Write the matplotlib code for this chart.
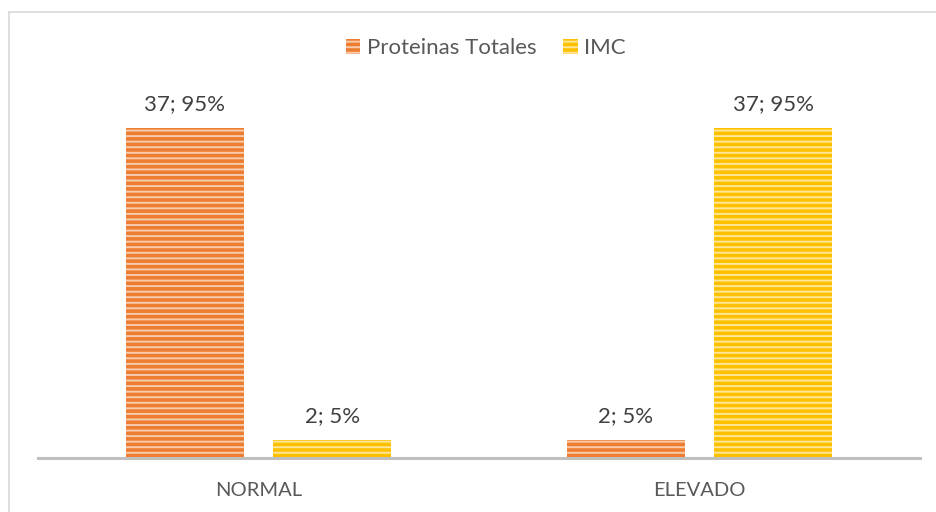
import matplotlib.pyplot as plt
import matplotlib.lines as mlines
import numpy as np

categories = ['NORMAL', 'ELEVADO']
proteinas = [37, 2]
imc = [2, 37]
prot_labels = ['37; 95%', '2; 5%']
imc_labels = ['2; 5%', '37; 95%']

plt.rcParams['font.family'] = ['Lato', 'DejaVu Sans']
plt.rcParams['hatch.linewidth'] = 1.4

W, H = 936, 512
fig = plt.figure(figsize=(W / 100, H / 100), dpi=100)
ax = fig.add_axes([38 / W, 1 - 458 / H, (920 - 38) / W, (458 - 101) / H])

x = np.arange(len(categories))
bw = 0.268
off = 0.167

b1 = ax.bar(x - off, proteinas, bw, color='#ED7D31', edgecolor='#F8CBAD',
            linewidth=0, hatch='---', label='Proteinas Totales')
b2 = ax.bar(x + off, imc, bw, color='#FFC000', edgecolor='#FFE699',
            linewidth=0, hatch='---', label='IMC')

txt = '#404040'
ax.bar_label(b1, prot_labels, padding=10, fontsize=16, color=txt)
ax.bar_label(b2, imc_labels, padding=10, fontsize=16, color=txt)

ax.set_xlim(-0.5, 1.5)
ax.set_ylim(0, 40)
ax.set_xticks(x)
ax.set_xticklabels(categories, fontsize=14.5, color='#595959')
ax.tick_params(axis='x', length=0, pad=17)
ax.set_yticks([])
for s in ['top', 'right', 'left']:
    ax.spines[s].set_visible(False)
ax.spines['bottom'].set_color('#BFBFBF')
ax.spines['bottom'].set_linewidth(2.2)

fig.legend(loc='center', bbox_to_anchor=(486 / W, 1 - 48 / H), ncol=2,
           frameon=False, fontsize=16, labelcolor='#595959',
           handlelength=0.65, handleheight=0.65, handletextpad=0.3,
           columnspacing=1.2)

# chart border (only top and left visible in the reference)
fig.add_artist(mlines.Line2D([8.5 / W, 8.5 / W], [0, 1 - 11.5 / H],
                             transform=fig.transFigure, color='#D9D9D9', lw=1.2))
fig.add_artist(mlines.Line2D([8.5 / W, 1], [1 - 11.5 / H, 1 - 11.5 / H],
                             transform=fig.transFigure, color='#D9D9D9', lw=1.2))

fig.savefig('out.png', dpi=100)
